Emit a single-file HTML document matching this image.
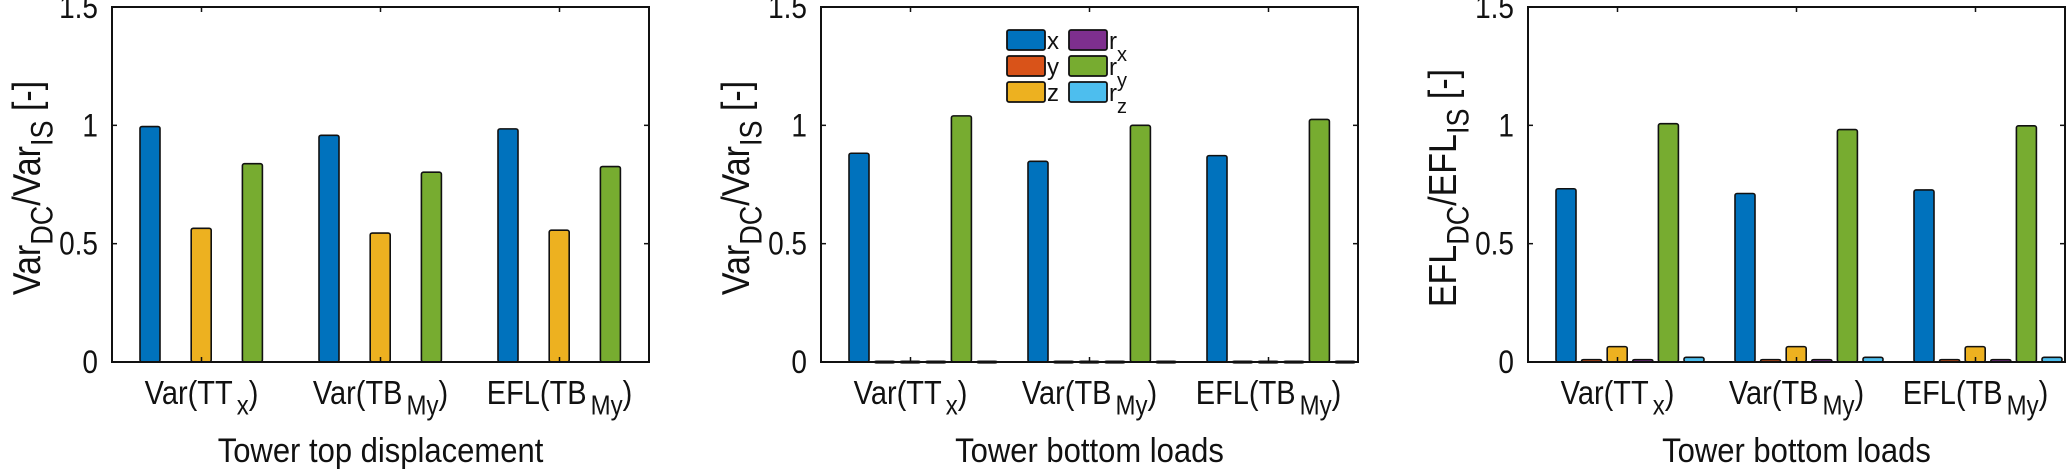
<!DOCTYPE html>
<html><head><meta charset="utf-8"><style>
html,body{margin:0;padding:0;background:#fff;}
svg{display:block;font-family:"Liberation Sans",Arial,sans-serif;}
</style></head><body>
<svg id="chart" width="2067" height="471" viewBox="0 0 2067 471" xmlns="http://www.w3.org/2000/svg"></svg>
<script>
const categories = ["TTx", "TBMy", "EFLTBMy"];
const seriesNames = ["x", "y", "z", "rx", "ry", "rz"];
const seriesColors = ["#0072BD", "#D95319", "#EDB120", "#7E2F8E", "#77AC30", "#4DBEEE"];
const yTicks = [0, 0.5, 1, 1.5];
const yTickLabels = ["0", "0.5", "1", "1.5"];
// panel 1 values per series [group1, group2, group3]
const p1x = [0.995, 0.958, 0.985];
const p1y = [0, 0, 0];
const p1z = [0.565, 0.545, 0.557];
const p1rx = [0, 0, 0];
const p1ry = [0.838, 0.802, 0.826];
const p1rz = [0, 0, 0];
// panel 2
const p2x = [0.882, 0.848, 0.872];
const p2y = [0.003, 0.003, 0.003];
const p2z = [0.003, 0.003, 0.003];
const p2rx = [0.003, 0.003, 0.003];
const p2ry = [1.04, 1.0, 1.025];
const p2rz = [0.003, 0.003, 0.003];
// panel 3
const p3x = [0.732, 0.712, 0.727];
const p3y = [0.01, 0.01, 0.01];
const p3z = [0.065, 0.065, 0.065];
const p3rx = [0.01, 0.01, 0.01];
const p3ry = [1.007, 0.982, 0.998];
const p3rz = [0.02, 0.02, 0.02];

const NS = "http://www.w3.org/2000/svg";
const svg = document.getElementById("chart");
function el(tag, attrs, parent) {
  const e = document.createElementNS(NS, tag);
  for (const k in attrs) e.setAttribute(k, attrs[k]);
  (parent || svg).appendChild(e);
  return e;
}
const top0 = 7, bot0 = 362, W = 537;
function yS(v) { return bot0 - v * (bot0 - top0) / 1.5; }

const panels = [
  {left: 112, data: [p1x, p1y, p1z, p1rx, p1ry, p1rz], ylab: "Var", xlab: "Tower top displacement", name: "panel-top-displacement", showZero: false},
  {left: 821, data: [p2x, p2y, p2z, p2rx, p2ry, p2rz], ylab: "Var", xlab: "Tower bottom loads", name: "panel-bottom-loads-var", showZero: true},
  {left: 1528, data: [p3x, p3y, p3z, p3rx, p3ry, p3rz], ylab: "EFL", xlab: "Tower bottom loads", name: "panel-bottom-loads-efl", showZero: true}
];

panels.forEach((p, pi) => {
  const g = el("g", {});
  
  
  const L = p.left;
  function xS(u) { return L + (u - 0.5) * W / 3; }
  p.data.forEach((vals, si) => {
    if (!p.showZero && seriesNames[si] !== "x" && seriesNames[si] !== "z" && seriesNames[si] !== "ry") return;
    vals.forEach((v, gi) => {
      const cx = xS(gi + 1) + 12.5 + (si - 2.5) * 25.6;
      const y = yS(v);
      const r = el("rect", {x: cx - 10, y: y, width: 20, height: Math.max(bot0 - y, 1.5), fill: seriesColors[si], stroke: "#111", "stroke-width": 1.6, rx: 2}, g);
      
      
    });
  });
  const box = el("rect", {x: L, y: top0, width: W, height: bot0 - top0, fill: "none", stroke: "#111", "stroke-width": 2}, g);
  
  
  yTicks.forEach((t, i) => {
    const y = yS(t);
    el("line", {x1: L, y1: y, x2: L + 5, y2: y, stroke: "#111", "stroke-width": 1.5}, g);
    el("line", {x1: L + W, y1: y, x2: L + W - 5, y2: y, stroke: "#111", "stroke-width": 1.5}, g);
    const tl = el("text", {x: 0, y: 0, "text-anchor": "end", "font-size": 28, fill: "#111", transform: "translate(" + (L - 14) + "," + (y + 11) + ") scale(1,1.15)"}, g);
    tl.textContent = yTickLabels[i];
    
    
  });
  const labs = [["Var(TT", "x", ")"], ["Var(TB", "My", ")"], ["EFL(TB", "My", ")"]];
  categories.forEach((c, gi) => {
    const x = xS(gi + 1);
    el("line", {x1: x, y1: bot0, x2: x, y2: bot0 - 5, stroke: "#111", "stroke-width": 1.5}, g);
    el("line", {x1: x, y1: top0, x2: x, y2: top0 + 5, stroke: "#111", "stroke-width": 1.5}, g);
    const t = el("text", {x: 0, y: 0, "text-anchor": "middle", "font-size": 29, fill: "#111", transform: "translate(" + x + ",404) scale(1,1.15)"}, g);
    
    
    const a = el("tspan", {}, t); a.textContent = labs[gi][0];
    const b = el("tspan", {dy: 9, dx: 4, "font-size": 24}, t); b.textContent = labs[gi][1];
    const d = el("tspan", {dy: -9}, t); d.textContent = labs[gi][2];
  });
  const xl = el("text", {x: 0, y: 0, "text-anchor": "middle", "font-size": 31, fill: "#111", transform: "translate(" + (L + W / 2) + ",462) scale(1,1.12)"}, g);
  xl.textContent = p.xlab;
  
  
  const yl = el("text", {x: 0, y: 0, "text-anchor": "middle", "font-size": 34, fill: "#111", transform: "translate(" + (L - 72) + "," + 188 + ") rotate(-90) scale(1,1.15)"}, g);
  
  
  const s1 = el("tspan", {}, yl); s1.textContent = p.ylab;
  const s2 = el("tspan", {dy: 11, "font-size": 27}, yl); s2.textContent = "DC";
  const s3 = el("tspan", {dy: -11}, yl); s3.textContent = "/" + p.ylab;
  const s4 = el("tspan", {dy: 11, "font-size": 27}, yl); s4.textContent = "IS";
  const s5 = el("tspan", {dy: -11}, yl); s5.textContent = " [-]";
});

const leg = el("g", {});


const legPos = [[1007, 30], [1007, 56], [1007, 82], [1069, 30], [1069, 56], [1069, 82]];
seriesNames.forEach((n, i) => {
  const [x, y] = legPos[i];
  const gi = el("g", {}, leg);
  
  
  el("rect", {x: x, y: y, width: 38, height: 20, fill: seriesColors[i], stroke: "#111", "stroke-width": 1.8, rx: 2}, gi);
  const t = el("text", {x: x + 40, y: y + 19, "font-size": 24, fill: "#111"}, gi);
  if (n.length === 1) { t.textContent = n; }
  else {
    const a = el("tspan", {}, t); a.textContent = "r";
    const b = el("tspan", {dy: 12, "font-size": 20}, t); b.textContent = n[1];
  }
});
</script>
</body></html>
